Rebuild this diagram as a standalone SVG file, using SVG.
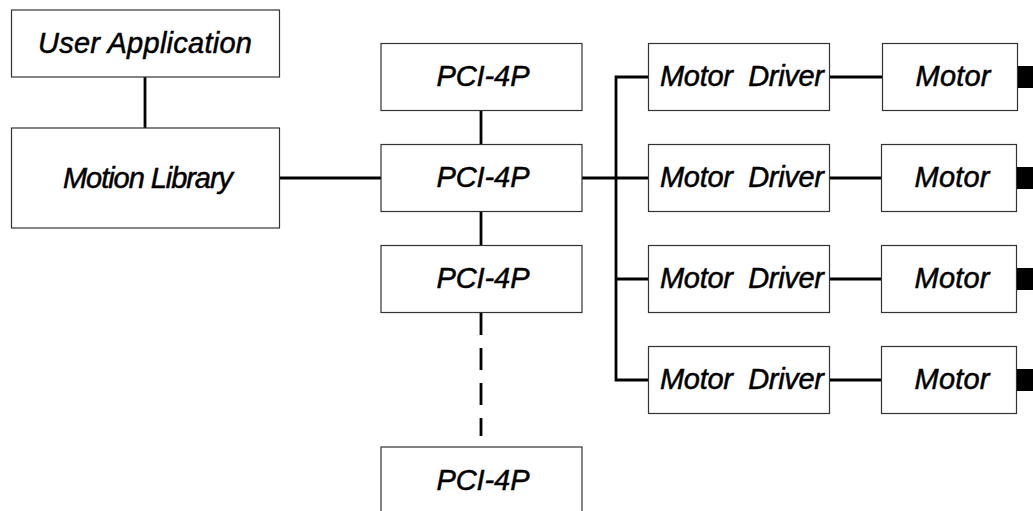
<svg xmlns="http://www.w3.org/2000/svg" width="1033" height="511" viewBox="0 0 1033 511">
<style>
.box{fill:#fff;stroke:#333;stroke-width:1.2}
.t{font-family:"Liberation Sans",Arial,sans-serif;font-style:italic;font-size:29px;fill:#000;stroke:#000;stroke-width:0.5;text-anchor:middle;white-space:pre}
.c{stroke:#000;stroke-width:2.8;fill:none}
.sq{fill:#000}
</style>
<rect width="1033" height="511" fill="#fff"/>
<g id="connectors">
<line class="c" x1="145" y1="77" x2="145" y2="128"/>
<line class="c" x1="279" y1="178" x2="381" y2="178"/>
<line class="c" x1="481" y1="111" x2="481" y2="144"/>
<line class="c" x1="481" y1="212" x2="481" y2="246"/>
<line class="c" x1="481" y1="313" x2="481" y2="436" stroke-dasharray="22 13"/>
<line class="c" x1="582" y1="178" x2="648" y2="178"/>
<path class="c" d="M648 77H616V380H648M616 279H648"/>
<line class="c" x1="830" y1="77" x2="882" y2="77"/>
<line class="c" x1="830" y1="178" x2="882" y2="178"/>
<line class="c" x1="830" y1="279" x2="882" y2="279"/>
<line class="c" x1="830" y1="380" x2="882" y2="380"/>
</g>
<g id="user-application"><rect class="box" x="11.5" y="10" width="268" height="67"/><text class="t" x="145" y="53" textLength="214" lengthAdjust="spacing">User Application</text></g>
<g id="motion-library"><rect class="box" x="11.5" y="128" width="268" height="100"/><text class="t" x="148" y="188" textLength="170" lengthAdjust="spacing">Motion Library</text></g>
<g id="pci1"><rect class="box" x="381" y="43.5" width="201" height="67"/><text class="t" x="483" y="86" textLength="93" lengthAdjust="spacing">PCI-4P</text></g>
<g id="pci2"><rect class="box" x="381" y="144.5" width="201" height="67"/><text class="t" x="483" y="187" textLength="93" lengthAdjust="spacing">PCI-4P</text></g>
<g id="pci3"><rect class="box" x="381" y="245.5" width="201" height="67"/><text class="t" x="483" y="288" textLength="93" lengthAdjust="spacing">PCI-4P</text></g>
<g id="pci4"><rect class="box" x="381" y="447" width="201" height="67"/><text class="t" x="483" y="490" textLength="93" lengthAdjust="spacing">PCI-4P</text></g>
<g id="driver1"><rect class="box" x="648.5" y="43.5" width="181" height="67"/><text class="t" x="742" y="86" textLength="164" lengthAdjust="spacing" xml:space="preserve">Motor  Driver</text></g>
<g id="driver2"><rect class="box" x="648.5" y="144.5" width="181" height="67"/><text class="t" x="742" y="187" textLength="164" lengthAdjust="spacing" xml:space="preserve">Motor  Driver</text></g>
<g id="driver3"><rect class="box" x="648.5" y="245.5" width="181" height="67"/><text class="t" x="742" y="288" textLength="164" lengthAdjust="spacing" xml:space="preserve">Motor  Driver</text></g>
<g id="driver4"><rect class="box" x="648.5" y="346.5" width="181" height="67"/><text class="t" x="742" y="389" textLength="164" lengthAdjust="spacing" xml:space="preserve">Motor  Driver</text></g>
<g id="motor1"><rect class="box" x="882.5" y="43.5" width="135" height="67"/><text class="t" x="953" y="86" textLength="75" lengthAdjust="spacing">Motor</text><rect class="sq" x="1018" y="66" width="22" height="22"/></g>
<g id="motor2"><rect class="box" x="881.5" y="144.5" width="135" height="67"/><text class="t" x="952" y="187" textLength="75" lengthAdjust="spacing">Motor</text><rect class="sq" x="1017" y="167" width="22" height="22"/></g>
<g id="motor3"><rect class="box" x="881.5" y="245.5" width="135" height="67"/><text class="t" x="952" y="288" textLength="75" lengthAdjust="spacing">Motor</text><rect class="sq" x="1017" y="268" width="22" height="22"/></g>
<g id="motor4"><rect class="box" x="881.5" y="346.5" width="135" height="67"/><text class="t" x="952" y="389" textLength="75" lengthAdjust="spacing">Motor</text><rect class="sq" x="1017" y="369" width="22" height="22"/></g>
</svg>
